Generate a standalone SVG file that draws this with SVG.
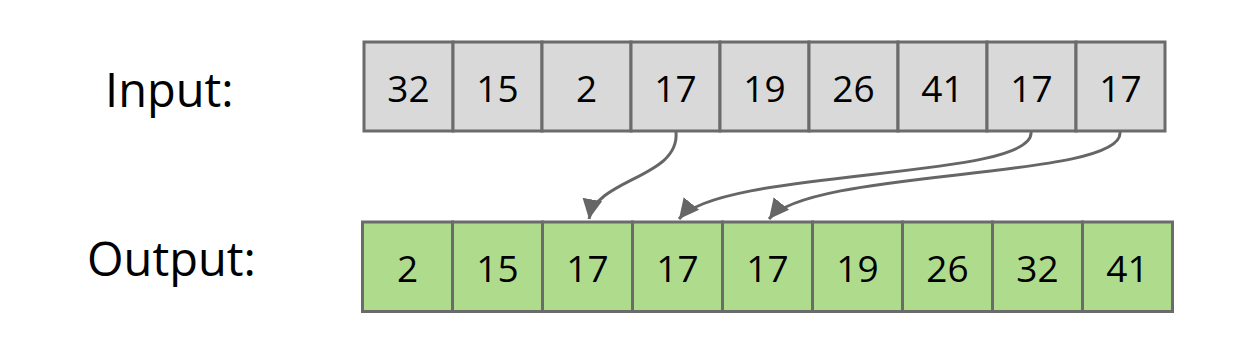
<svg xmlns="http://www.w3.org/2000/svg" width="1234" height="338" viewBox="0 0 1234 338">
<style>
.lbl{font-family:"Open Sans",sans-serif;font-size:47px;fill:#000}
.num{font-family:"Open Sans",sans-serif;font-size:37px;fill:#000;text-anchor:middle}
.in rect{fill:#d9d9d9;stroke:#6b6b6b;stroke-width:3}
.out rect{fill:#afdb8d;stroke:#6b6b6b;stroke-width:3}
.conn path{fill:none;stroke:#666;stroke-width:3}
</style>
<defs>
<marker id="ah" markerUnits="userSpaceOnUse" markerWidth="22" markerHeight="22" viewBox="0 0 20 20" refX="18" refY="10" orient="auto">
<path d="M0,1 L18,10 L0,19 Z" fill="#666"/>
</marker>
</defs>
<rect width="1234" height="338" fill="#fff"/>
<text class="lbl" x="105" y="107">Input:</text>
<text class="lbl" x="87" y="276">Output:</text>
<g id="input" class="in">
<g id="in1"><rect x="364" y="42" width="89" height="89"/><text class="num" x="408.5" y="102">32</text></g>
<g id="in2"><rect x="453" y="42" width="89" height="89"/><text class="num" x="497.5" y="102">15</text></g>
<g id="in3"><rect x="542" y="42" width="89" height="89"/><text class="num" x="586.5" y="102">2</text></g>
<g id="in4"><rect x="631" y="42" width="89" height="89"/><text class="num" x="675.5" y="102">17</text></g>
<g id="in5"><rect x="720" y="42" width="89" height="89"/><text class="num" x="764.5" y="102">19</text></g>
<g id="in6"><rect x="809" y="42" width="89" height="89"/><text class="num" x="853.5" y="102">26</text></g>
<g id="in7"><rect x="898" y="42" width="89" height="89"/><text class="num" x="942.5" y="102">41</text></g>
<g id="in8"><rect x="987" y="42" width="89" height="89"/><text class="num" x="1031.5" y="102">17</text></g>
<g id="in9"><rect x="1076" y="42" width="89" height="89"/><text class="num" x="1120.5" y="102">17</text></g>
</g>
<g id="output" class="out">
<g id="out1"><rect x="362.5" y="222" width="90" height="89.5"/><text class="num" x="407.5" y="281.5">2</text></g>
<g id="out2"><rect x="452.5" y="222" width="90" height="89.5"/><text class="num" x="497.5" y="281.5">15</text></g>
<g id="out3"><rect x="542.5" y="222" width="90" height="89.5"/><text class="num" x="587.5" y="281.5">17</text></g>
<g id="out4"><rect x="632.5" y="222" width="90" height="89.5"/><text class="num" x="677.5" y="281.5">17</text></g>
<g id="out5"><rect x="722.5" y="222" width="90" height="89.5"/><text class="num" x="767.5" y="281.5">17</text></g>
<g id="out6"><rect x="812.5" y="222" width="90" height="89.5"/><text class="num" x="857.5" y="281.5">19</text></g>
<g id="out7"><rect x="902.5" y="222" width="90" height="89.5"/><text class="num" x="947.5" y="281.5">26</text></g>
<g id="out8"><rect x="992.5" y="222" width="90" height="89.5"/><text class="num" x="1037.5" y="281.5">32</text></g>
<g id="out9"><rect x="1082.5" y="222" width="90" height="89.5"/><text class="num" x="1127.5" y="281.5">41</text></g>
</g>
<g id="connectors" class="conn">
<path d="M676,132 C680,178 596,178 589,219" marker-end="url(#ah)"/>
<path d="M1031,132 C1036,180 720,168 679,219" marker-end="url(#ah)"/>
<path d="M1120,132 C1125,180 810,168 769,219" marker-end="url(#ah)"/>
</g>
</svg>
